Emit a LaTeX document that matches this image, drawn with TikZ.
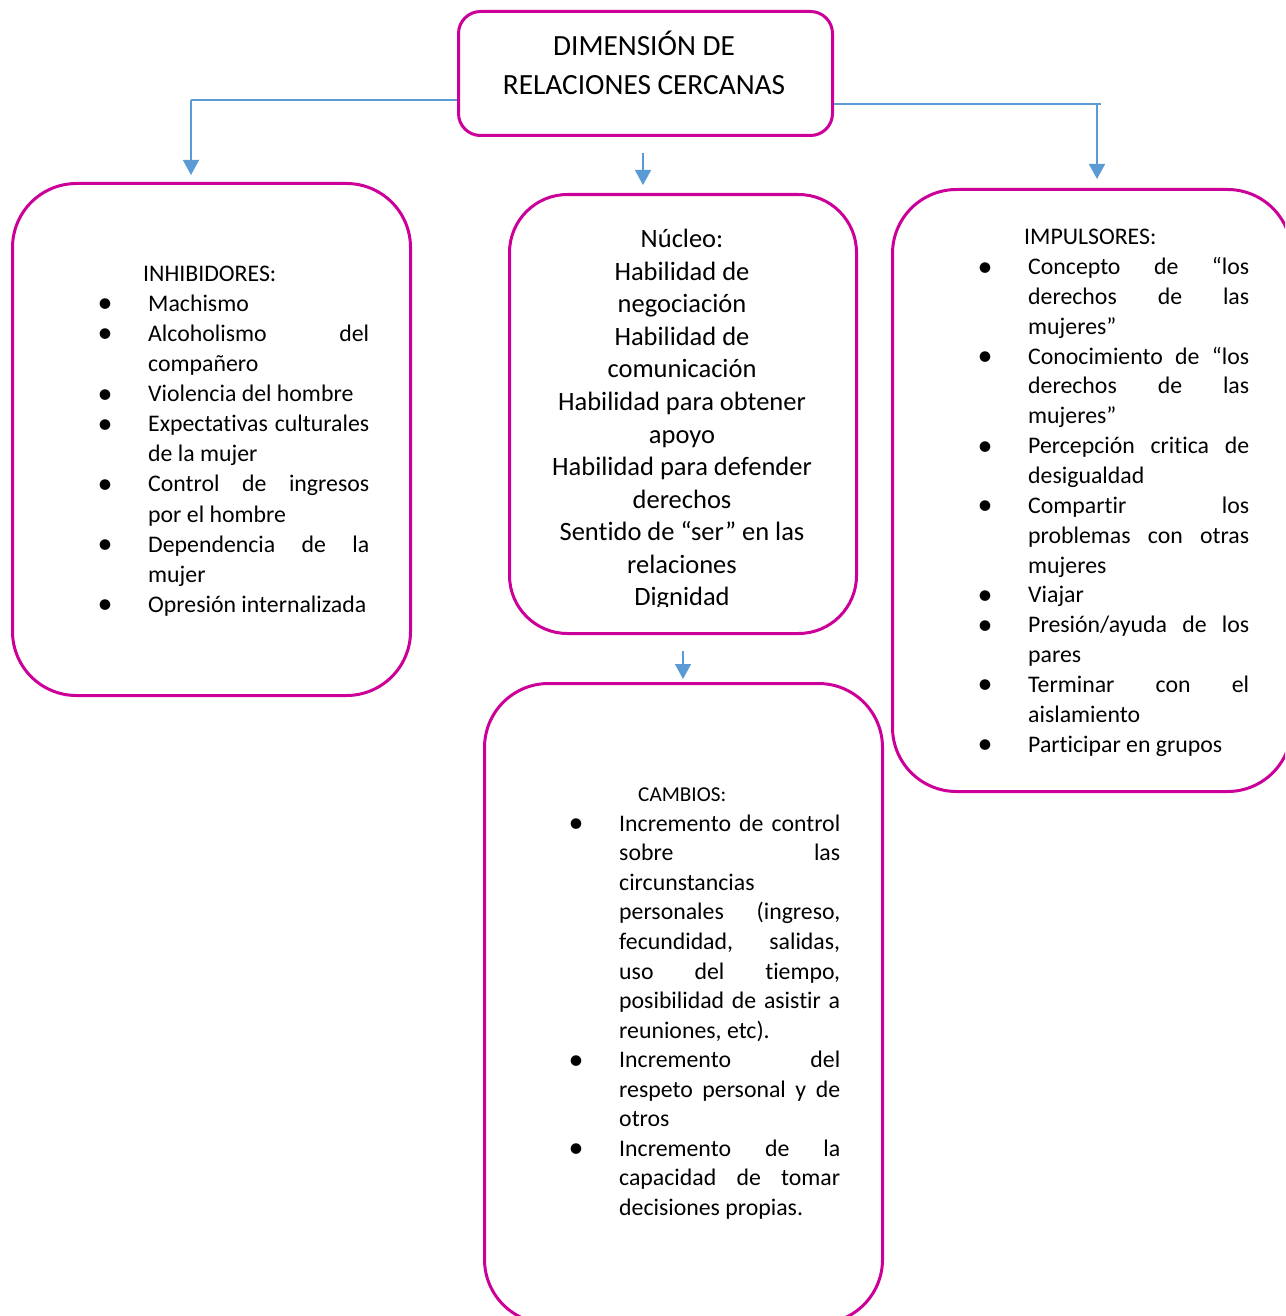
\documentclass[tikz,border=0pt]{standalone}
\usepackage{fontspec}
\setmainfont{Carlito}[Ligatures={NoCommon}]
\usetikzlibrary{arrows.meta}
\definecolor{boxpink}{RGB}{204,0,153}
\definecolor{arrblue}{RGB}{91,155,213}
\newcommand\tstrut[1]{\vrule height #1 width 0pt depth 0pt\relax}
\newcommand\bul{\llap{\makebox[0pt]{\raisebox{-1.5pt}{\fontsize{30}{30}\selectfont\textbullet}}\hspace{43pt}}}
\newcommand\ItJ[1]{\hbox to\hsize{\bul#1}}
\newcommand\ItL[1]{\hbox to\hsize{\bul#1\hfil}}
\newcommand\LnJ[1]{\hbox to\hsize{#1}}
\newcommand\LnL[1]{\hbox to\hsize{#1\hfil}}
\newcommand\Hd[2]{\hbox to\hsize{\kern#1\tstrut{24pt}#2\hfil}}
\newcommand\Cn[1]{\hbox to\hsize{\hfil#1\hfil}}
\tikzset{
  box/.style={draw=boxpink, line width=3pt, inner sep=0pt, anchor=north west},
  txt/.style={inner sep=0pt, anchor=north west},
  conn/.style={draw=arrblue, line width=1.4pt, -{Triangle[length=15pt,width=16pt]}},
  hline/.style={draw=arrblue, line width=1.3pt}
}
\begin{document}
\begin{tikzpicture}[x=1pt,y=-1pt]
\useasboundingbox (0,0) rectangle (1285,1316);
\clip (0,0) rectangle (1285,1316);
\fill[white] (0,0) rectangle (1285,1316);

% boxes
\node[box, rounded corners=22pt, minimum width=374pt, minimum height=124pt] (title) at (457,10) {};
\node[box, rounded corners=64pt, minimum width=398pt, minimum height=512pt] (inh) at (11,182) {};
\node[box, rounded corners=58pt, minimum width=347pt, minimum height=439pt] (nuc) at (508,193) {};
\node[box, rounded corners=64pt, minimum width=399pt, minimum height=602pt] (imp) at (891,188) {};
\node[box, rounded corners=64pt, minimum width=398pt, minimum height=640pt] (cam) at (483,682) {};

% title text
\node[inner sep=0pt, anchor=north] (ttxt) at (644,26.1) {\vbox{\hsize=374pt
  \fontsize{29.3}{39}\selectfont\lineskiplimit=-100pt
  \Cn{\tstrut{29.3pt}DIMENSIÓN DE}
  \Cn{RELACIONES CERCANAS}}};

% nucleo text (clipped like the original)
\begin{scope}
\clip (509,195) rectangle (855,606);
\node[inner sep=0pt, anchor=north] (ntxt) at (682,221) {\vbox{\hsize=340pt
  \fontsize{26.5}{32.55}\selectfont\lineskiplimit=-100pt
  \Cn{\tstrut{26.5pt}Núcleo:}
  \Cn{Habilidad de}
  \Cn{negociación}
  \Cn{Habilidad de}
  \Cn{comunicación}
  \Cn{Habilidad para obtener}
  \Cn{apoyo}
  \Cn{Habilidad para defender}
  \Cn{derechos}
  \Cn{Sentido de “ser” en las}
  \Cn{relaciones}
  \Cn{Dignidad}}};
\end{scope}

% inhibidores
\node[txt] (itxt) at (148,257) {\vbox{\hsize=221pt
  \fontsize{23.8}{30.1}\selectfont\lineskiplimit=-100pt
  \Hd{-5pt}{INHIBIDORES:}
  \ItL{Machismo}
  \ItJ{Alcoholismo del}
  \LnL{compañero}
  \ItL{Violencia del hombre}
  \ItJ{Expectativas culturales}
  \LnL{de la mujer}
  \ItJ{Control de ingresos}
  \LnL{por el hombre}
  \ItJ{Dependencia de la}
  \LnL{mujer}
  \ItL{Opresión internalizada}}};

% impulsores
\node[txt] (ptxt) at (1028,220.5) {\vbox{\hsize=221pt
  \fontsize{23.8}{29.85}\selectfont\lineskiplimit=-100pt
  \Hd{-4pt}{IMPULSORES:}
  \ItJ{Concepto de “los}
  \LnJ{derechos de las}
  \LnL{mujeres”}
  \ItJ{Conocimiento de “los}
  \LnJ{derechos de las}
  \LnL{mujeres”}
  \ItJ{Percepción critica de}
  \LnL{desigualdad}
  \ItJ{Compartir los}
  \LnJ{problemas con otras}
  \LnL{mujeres}
  \ItL{Viajar}
  \ItJ{Presión/ayuda de los}
  \LnL{pares}
  \ItJ{Terminar con el}
  \LnL{aislamiento}
  \ItL{Participar en grupos}}};

% cambios
\node[txt] (ctxt) at (619,777.5) {\vbox{\hsize=221pt
  \fontsize{23.8}{29.55}\selectfont\lineskiplimit=-100pt
  \Hd{19pt}{\fontsize{21.2}{29.55}\selectfont CAMBIOS:}
  \ItJ{Incremento de control}
  \LnJ{sobre las}
  \LnL{circunstancias}
  \LnJ{personales (ingreso,}
  \LnJ{fecundidad, salidas,}
  \LnJ{uso del tiempo,}
  \LnJ{posibilidad de asistir a}
  \LnL{reuniones, etc).}
  \ItJ{Incremento del}
  \LnJ{respeto personal y de}
  \LnL{otros}
  \ItJ{Incremento de la}
  \LnJ{capacidad de tomar}
  \LnL{decisiones propias.}}};

% connectors
\coordinate (Lh) at (191,100);
\coordinate (Ltip) at (191,175);
\coordinate (Mtip) at (643,185);
\coordinate (Rh) at (1101,104);
\coordinate (Rv) at (1097,105);
\coordinate (Rtip) at (1097,179);
\coordinate (Btip) at (683,679);
\draw[hline] (title.west |- Lh) -- (Lh);
\draw[conn] (Lh) -- (Ltip);
\draw[conn] ([yshift=-16pt]title.south -| Mtip) -- (Mtip);
\draw[hline] (title.east |- Rh) -- (Rh);
\draw[conn] (Rv) -- (Rtip);
\draw[conn] ([yshift=-16pt]nuc.south -| Btip) -- (Btip);
\end{tikzpicture}
\end{document}
